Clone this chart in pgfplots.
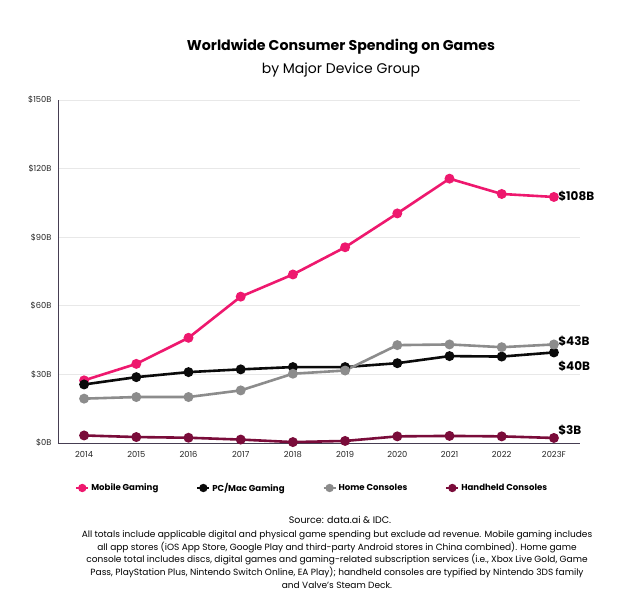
\documentclass[border=0pt]{standalone}
\usepackage{fontspec}
\setmainfont{Poppins}
\usepackage{pgfplots}
\pgfplotsset{compat=1.18}
\definecolor{mob}{RGB}{238,24,110}
\definecolor{pcm}{RGB}{10,10,10}
\definecolor{hom}{RGB}{140,140,140}
\definecolor{hand}{RGB}{122,12,58}
\definecolor{axc}{RGB}{70,62,82}
\definecolor{gridc}{RGB}{232,232,232}
\begin{document}
\begin{tikzpicture}[x=1pt,y=1pt]
\path[use as bounding box] (0,0) rectangle (640,611);
\begin{axis}[
  at={(58pt,168pt)}, anchor=south west,
  scale only axis, width=522pt, height=343pt,
  xmin=-0.5, xmax=9.5, ymin=0, ymax=150,
  xtick={0,...,9},
  xticklabels={2014,2015,2016,2017,2018,2019,2020,2021,2022,2023F},
  ytick={0,30,60,90,120,150},
  yticklabel={\$\pgfmathprintnumber{\tick}B},
  /pgf/number format/assume math mode=true,
  ticklabel style={font=\fontsize{8.3}{9}\selectfont, text=black!85},
  axis x line=bottom, axis y line=left,
  axis line style={-, draw=axc, line width=0.9pt},
  major tick length=0pt,
  ymajorgrids, grid style={gridc, line width=0.6pt},
  xticklabel shift=5pt, yticklabel shift=3pt,
  clip=false,
  every axis plot/.append style={line width=2.6pt, mark=*, mark size=3.6pt},
  legend columns=4,
  legend style={at={(axis description cs:0.487,0)}, anchor=center, yshift=-45pt,
    draw=none, fill=none, font=\bfseries\fontsize{8.6}{10}\selectfont,
    /tikz/every even column/.append style={column sep=36pt}},
  legend image code/.code={\draw[#1, line width=2pt] (0pt,0pt) -- (12pt,0pt); \fill[#1] (6pt,0pt) circle (2.8pt);},
]
\addplot[color=mob] coordinates {(0,27.4)(1,34.6)(2,46)(3,64)(4,73.7)(5,85.6)(6,100.4)(7,115.6)(8,108.9)(9,107.6)};
\addlegendentry{Mobile Gaming}
\addplot[color=pcm] coordinates {(0,25.6)(1,28.8)(2,31)(3,32.2)(4,33.2)(5,33.2)(6,34.9)(7,38)(8,37.8)(9,39.6)};
\addlegendentry{PC/Mac Gaming}
\addplot[color=hom] coordinates {(0,19.4)(1,20.1)(2,20.1)(3,23)(4,30.3)(5,31.7)(6,42.8)(7,43.1)(8,41.9)(9,43.1)};
\addlegendentry{Home Consoles}
\addplot[color=hand] coordinates {(0,3.3)(1,2.6)(2,2.3)(3,1.5)(4,0.4)(5,0.9)(6,2.9)(7,3.1)(8,2.9)(9,2.2)};
\addlegendentry{Handheld Consoles}
\node[anchor=west, font=\bfseries\fontsize{12}{13}\selectfont, inner sep=0pt] at (axis cs:9.08,108) {\$108B};
\node[anchor=west, font=\bfseries\fontsize{12}{13}\selectfont, inner sep=0pt] at (axis cs:9.08,44.5) {\$43B};
\node[anchor=west, font=\bfseries\fontsize{12}{13}\selectfont, inner sep=0pt] at (axis cs:9.08,33.6) {\$40B};
\node[anchor=west, font=\bfseries\fontsize{12}{13}\selectfont, inner sep=0pt] at (axis cs:9.08,5.7) {\$3B};
\end{axis}
\node[font=\bfseries\fontsize{14.2}{16}\selectfont] at (341,564) {Worldwide Consumer Spending on Games};
\node[font=\fontsize{14}{16}\selectfont] at (341,541) {by Major Device Group};
\node[font=\fontsize{9.5}{11}\selectfont] at (340,91) {Source: data.ai \& IDC.};
\node[font=\fontsize{9}{12.7}\selectfont, align=center, anchor=north] at (337,84) {All totals include applicable digital and physical game spending but exclude ad revenue. Mobile gaming includes\\all app stores (iOS App Store, Google Play and third-party Android stores in China combined). Home game\\console total includes discs, digital games and gaming-related subscription services (i.e., Xbox Live Gold, Game\\Pass, PlayStation Plus, Nintendo Switch Online, EA Play); handheld consoles are typified by Nintendo 3DS family\\and Valve's Steam Deck.};
\end{tikzpicture}
\end{document}
